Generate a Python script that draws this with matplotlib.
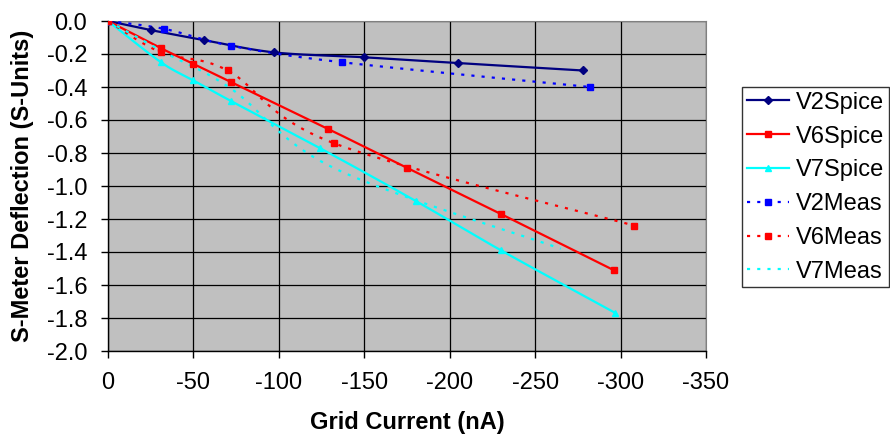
import numpy as np
import matplotlib
matplotlib.use("Agg")
import matplotlib.pyplot as plt

plt.rcParams['font.family'] = ['Liberation Sans', 'DejaVu Sans']
plt.rcParams['axes.unicode_minus'] = False

# ---- data ----
v2_spice_x = [0, -25, -56, -97, -150, -205, -278]
v2_spice_y = [0, -0.055, -0.115, -0.19, -0.22, -0.255, -0.30]

v6_spice_x = [0, -31, -50, -72, -129, -175, -230, -296]
v6_spice_y = [0, -0.165, -0.26, -0.37, -0.655, -0.89, -1.17, -1.51]

v7_spice_x = [0, -31, -50, -72, -124, -180, -230, -297]
v7_spice_y = [0, -0.25, -0.36, -0.485, -0.77, -1.09, -1.39, -1.77]

v2_meas_x = [0, -33, -72, -137, -282]
v2_meas_y = [0, -0.048, -0.15, -0.25, -0.40]

v6_meas_x = [0, -31, -70, -132, -308]
v6_meas_y = [0, -0.19, -0.30, -0.74, -1.24]

v7_meas_x = [0, -33, -72, -132, -265]
v7_meas_y = [0, -0.19, -0.41, -0.89, -1.38]

x_ticks = [0, -50, -100, -150, -200, -250, -300, -350]
y_ticks = [0.0, -0.2, -0.4, -0.6, -0.8, -1.0, -1.2, -1.4, -1.6, -1.8, -2.0]


def smooth(x, y, n=24):
    """Excel-style smoothed line (Catmull-Rom Bezier through the data points)."""
    pts = np.column_stack([x, y]).astype(float)
    P = np.vstack([pts[0], pts, pts[-1]])
    t = np.linspace(0, 1, n)[:, None]
    segs = []
    for i in range(len(pts) - 1):
        p0, p1, p2, p3 = P[i], P[i + 1], P[i + 2], P[i + 3]
        c1 = p1 + (p2 - p0) / 6.0
        c2 = p2 - (p3 - p1) / 6.0
        b = ((1 - t) ** 3) * p1 + 3 * ((1 - t) ** 2) * t * c1 + 3 * (1 - t) * t ** 2 * c2 + t ** 3 * p2
        segs.append(b if i == 0 else b[1:])
    s = np.vstack(segs)
    return s[:, 0], s[:, 1]


FS = 17

fig = plt.figure(figsize=(8.9, 4.36), dpi=100)
ax = fig.add_axes([108 / 890, 1 - 351 / 436, (706 - 108) / 890, (351 - 21) / 436])
ax.set_facecolor('#C0C0C0')

dot = (0, (1.4, 3.2))

series = [
    (v2_spice_x, v2_spice_y, '#000080', '-', 'D', 4, 'V2Spice'),
    (v6_spice_x, v6_spice_y, '#FF0000', '-', 's', 5, 'V6Spice'),
    (v7_spice_x, v7_spice_y, '#00FFFF', '-', '^', 5, 'V7Spice'),
    (v2_meas_x, v2_meas_y, '#0000FF', dot, 's', 5, 'V2Meas'),
    (v6_meas_x, v6_meas_y, '#FF0000', dot, 's', 5, 'V6Meas'),
    (v7_meas_x, v7_meas_y, '#00FFFF', dot, None, 0, 'V7Meas'),
]

handles = []
for xs, ys, col, ls, mk, ms, lab in series:
    sx, sy = smooth(xs, ys)
    ax.plot(sx, sy, color=col, linestyle=ls, linewidth=1.6, zorder=3)
    if mk is not None:
        ax.plot(xs, ys, linestyle='none', marker=mk, markersize=ms,
                color=col, markeredgecolor=col, zorder=4)
    h, = ax.plot([], [], color=col, linestyle=ls, linewidth=1.6,
                 marker=mk if mk else None, markersize=ms, label=lab)
    handles.append(h)

ax.set_xlim(0, -350)
ax.set_ylim(-2.0, 0.0)
ax.set_xticks(x_ticks)
ax.set_xticklabels([str(v) for v in x_ticks])
ax.set_yticks(y_ticks)
ax.set_yticklabels([f"{v:.1f}" if v != 0 else "0.0" for v in y_ticks])

ax.grid(True, color='black', linewidth=0.9)
ax.set_axisbelow(True)
ax.tick_params(axis='both', labelsize=FS, direction='out', length=5, width=1,
               color='black', pad=10)
for s in ['left', 'bottom']:
    ax.spines[s].set_color('black')
    ax.spines[s].set_linewidth(1)
ax.spines['top'].set_color('#808080')
ax.spines['right'].set_color('#808080')

ax.set_xlabel('Grid Current (nA)', fontsize=FS, fontweight='bold', labelpad=12)
ax.set_ylabel('S-Meter Deflection (S-Units)', fontsize=FS, fontweight='bold', labelpad=9)

leg = fig.legend(handles=handles, loc='upper left', bbox_to_anchor=(742 / 890, 1 - 87 / 436),
                 bbox_transform=fig.transFigure, fontsize=FS, frameon=True, fancybox=False,
                 edgecolor='black', borderaxespad=0, handlelength=1.8, handletextpad=0.3,
                 labelspacing=0.5, borderpad=0.2)
leg.get_frame().set_linewidth(1)

fig.savefig('out.png', dpi=100)
